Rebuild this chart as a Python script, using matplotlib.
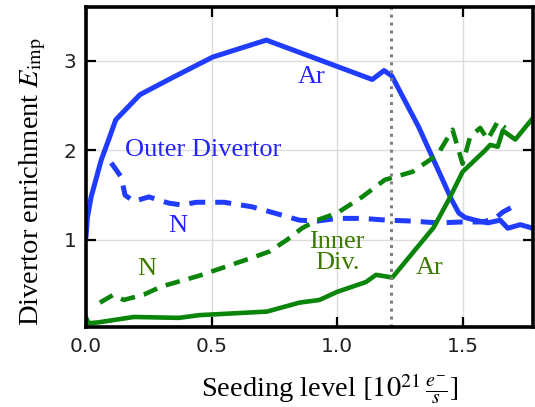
import numpy as np
import matplotlib
matplotlib.use("Agg")
import matplotlib.pyplot as plt

plt.rcParams['mathtext.fontset'] = 'stix'

# outer divertor, argon (blue solid)
outer_ar_x = [0.0, 0.005, 0.02, 0.06, 0.09, 0.118, 0.214, 0.35, 0.504, 0.718, 1.14, 1.187, 1.218, 1.325, 1.456,
              1.485, 1.51, 1.55, 1.60, 1.65, 1.68, 1.73, 1.78]
outer_ar_y = [1.05, 1.25, 1.48, 1.89, 2.12, 2.34, 2.62, 2.82, 3.04, 3.23, 2.79, 2.89, 2.83, 2.26, 1.45,
              1.30, 1.25, 1.22, 1.19, 1.22, 1.13, 1.17, 1.13]

# outer divertor, nitrogen (blue dashed)
outer_n_x = [0.10, 0.14, 0.155, 0.19, 0.25, 0.33, 0.38, 0.44, 0.55, 0.66, 0.75, 0.85, 0.92, 1.0, 1.1, 1.2,
             1.3, 1.4, 1.5, 1.58, 1.63, 1.66, 1.70]
outer_n_y = [1.86, 1.70, 1.50, 1.43, 1.48, 1.41, 1.39, 1.42, 1.42, 1.37, 1.30, 1.22, 1.21, 1.24, 1.24, 1.22,
             1.21, 1.19, 1.20, 1.20, 1.24, 1.31, 1.37]

# inner divertor, nitrogen (green dashed)
inner_n_x = [0.055, 0.107, 0.15, 0.23, 0.30, 0.45, 0.66, 0.73, 0.80, 0.86, 0.92, 1.0, 1.10, 1.19, 1.30,
             1.40, 1.46, 1.50, 1.53, 1.57, 1.60, 1.64, 1.67]
inner_n_y = [0.30, 0.385, 0.33, 0.39, 0.48, 0.60, 0.80, 0.87, 1.00, 1.13, 1.22, 1.30, 1.48, 1.67, 1.76,
             1.95, 2.23, 1.85, 2.15, 2.25, 2.12, 2.32, 2.25]

# inner divertor, argon (green solid)
inner_ar_x = [0.0, 0.01, 0.05, 0.19, 0.37, 0.45, 0.72, 0.85, 0.93, 1.0, 1.115, 1.155, 1.22, 1.385, 1.445,
              1.50, 1.59, 1.61, 1.64, 1.66, 1.71, 1.78]
inner_ar_y = [0.13, 0.07, 0.08, 0.14, 0.13, 0.16, 0.20, 0.30, 0.33, 0.42, 0.53, 0.61, 0.58, 1.14, 1.45,
              1.76, 2.00, 2.06, 2.04, 2.22, 2.12, 2.36]

x_marker = 1.215

blue = '#1f3cff'
green = '#0a850a'
blue_txt = '#2424ff'
green_txt = '#3d7a00'

fig = plt.figure(figsize=(5.35, 4.07), dpi=100)
ax = fig.add_axes([0.161, 0.197, 0.835, 0.786])

ax.plot(outer_ar_x, outer_ar_y, color=blue, lw=3.6, solid_joinstyle='round')
ax.plot(outer_n_x, outer_n_y, color=blue, lw=3.6, ls=(0, (3.2, 2.0)))
ax.plot(inner_n_x, inner_n_y, color=green, lw=3.3, ls=(0, (3.2, 2.0)))
ax.plot(inner_ar_x, inner_ar_y, color=green, lw=3.3, solid_joinstyle='round')
ax.axvline(x_marker, color='#808080', lw=2.2, ls=(0, (1, 1.6)))

ax.set_xlim(0, 1.78)
ax.set_ylim(0.03, 3.6)
ax.set_xticks([0.0, 0.5, 1.0, 1.5])
ax.set_xticklabels(['0.0', '0.5', '1.0', '1.5'])
ax.set_yticks([1, 2, 3])
ax.grid(True, color='#dcdcdc', lw=1)
ax.tick_params(direction='in', length=7, width=1.6, labelsize=14.5, labelcolor='#222222',
               top=True, right=True, pad=7)
for s in ax.spines.values():
    s.set_linewidth(2.6)

serif = 'Liberation Serif'
fs = 19
ax.text(0.90, 2.82, 'Ar', color=blue_txt, fontsize=fs, family=serif, ha='center', va='center')
ax.text(0.155, 2.0, 'Outer Divertor', color=blue_txt, fontsize=fs, family=serif, ha='left', va='center')
ax.text(0.365, 1.16, 'N', color=blue_txt, fontsize=fs, family=serif, ha='center', va='center')
ax.text(0.24, 0.67, 'N', color=green_txt, fontsize=fs, family=serif, ha='center', va='center')
ax.text(1.0, 0.86, 'Inner\nDiv.', color=green_txt, fontsize=fs, family=serif, ha='center', va='center',
        linespacing=0.95)
ax.text(1.37, 0.69, 'Ar', color=green_txt, fontsize=fs, family=serif, ha='center', va='center')

ax.text(-0.119, 0.453, r'Divertor enrichment $E_{\rm imp}$', fontsize=20.5, family=serif, rotation=90,
        ha='center', va='center', transform=ax.transAxes)
ax.text(0.546, -0.219, r'Seeding level $[10^{21}\,\frac{e^{-}}{s}]$', fontsize=20.5, family=serif,
        ha='center', va='baseline', transform=ax.transAxes)

fig.savefig('out.png', dpi=100)
